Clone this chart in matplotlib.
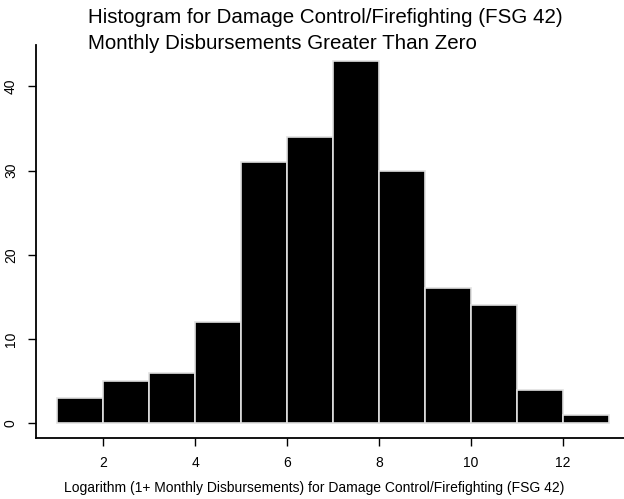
import matplotlib
matplotlib.use('Agg')
import matplotlib.pyplot as plt

# histogram bins and counts
bin_edges = [1, 2, 3, 4, 5, 6, 7, 8, 9, 10, 11, 12, 13]
counts = [3, 5, 6, 12, 31, 34, 43, 30, 16, 14, 4, 1]

plt.rcParams['font.family'] = ['Liberation Sans', 'DejaVu Sans']

fig = plt.figure(figsize=(6.24, 4.99), dpi=100)
W, H = 624, 499
# axes box in pixels: left 36, right 624, top 45, bottom 437.7
ax = fig.add_axes([36 / W, 1 - 437.7 / H, (624 - 36) / W, (437.7 - 45) / H])

ax.bar(bin_edges[:-1], counts, width=1, align='edge',
       color='black', edgecolor='#e0e0e0', linewidth=1.2)

ax.set_xlim(0.54, 13.33)
ax.set_ylim(-1.71, 44.9)
ax.set_xticks([2, 4, 6, 8, 10, 12])
ax.set_yticks([0, 10, 20, 30, 40])
for s in ['top', 'right']:
    ax.spines[s].set_visible(False)
for s in ['left', 'bottom']:
    ax.spines[s].set_linewidth(1.3)
ax.tick_params(direction='out', length=6, width=1, labelsize=10, pad=7)
plt.setp(ax.get_yticklabels(), rotation=90, va='center')

ax.set_xlabel('Logarithm (1+ Monthly Disbursements) for Damage Control/Firefighting (FSG 42)',
              fontsize=10)
# the label is centred on the page, not on the axes
ax.xaxis.set_label_coords((314 - 36) / (624 - 36), -0.11)

fig.text(88 / W, 1 - 23 / H, 'Histogram for Damage Control/Firefighting (FSG 42)',
         fontsize=14.8, ha='left', va='baseline')
fig.text(88 / W, 1 - 49 / H, 'Monthly Disbursements Greater Than Zero',
         fontsize=14.8, ha='left', va='baseline')

fig.savefig('out.png', dpi=100)
